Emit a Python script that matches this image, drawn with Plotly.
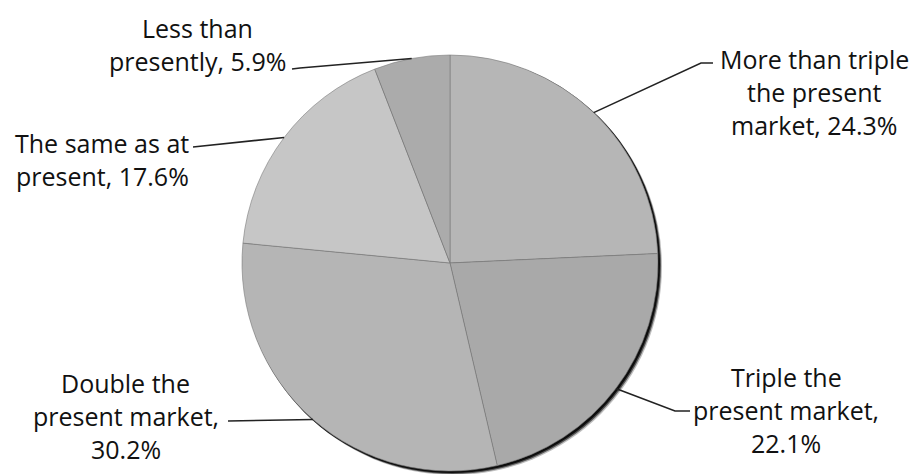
import math
import plotly.graph_objects as go

# Survey answers: expected size of the future market
categories = [
    "More than triple the present market",
    "Triple the present market",
    "Double the present market",
    "The same as at present",
    "Less than presently",
]
shares = [24.3, 22.1, 30.2, 17.6, 5.9]
# label text per slice; the share is appended to the last line
label_text = [
    ["More than triple", "the present", "market, "],
    ["Triple the", "present market,", ""],
    ["Double the", "present market,", ""],
    ["The same as at", "present, "],
    ["Less than", "presently, "],
]

# ---- styling / layout ----
W, H = 916, 474
cx, cy, r = 450, 263, 208          # pie centre and radius in pixels (from top-left)
slice_colors = ["#b6b6b6", "#a9a9a9", "#b5b5b5", "#c6c6c6", "#ababab"]
font = dict(family="'Open Sans', Lato, sans-serif", size=25, color="#111111")
line_gap = 33

# where each label block sits (centre x, first-line centre y) and the leader's path
label_pos = [(814, 59), (786, 377), (126, 383), (102, 143), (197, 28)]
leader_pts = [
    [(701, 63), (713, 63)],
    [(675, 411), (690, 411)],
    [(228, 421)],
    [(193, 147)],
    [(300, 68), (292, 69)],
]


def px(x, y):
    return x / W, 1 - y / H


fig = go.Figure(
    go.Pie(
        labels=categories,
        values=shares,
        sort=False,
        direction="clockwise",
        rotation=0,
        textinfo="none",
        hoverinfo="label+percent",
        marker=dict(colors=slice_colors, line=dict(color="#7a7a7a", width=0.6)),
        domain=dict(x=[(cx - r) / W, (cx + r) / W], y=[1 - (cy + r) / H, 1 - (cy - r) / H]),
        showlegend=False,
    )
)

shapes = []
annotations = []

# soft drop shadow behind the pie edge (lower right)
for off, col in [(4, "rgba(0,0,0,0.25)"), (3, "rgba(0,0,0,0.55)"), (2, "rgba(0,0,0,0.85)")]:
    x0, y1 = px(cx - r + off - 1, cy - r + off - 1)
    x1, y0 = px(cx + r + off, cy + r + off)
    shapes.append(dict(type="circle", xref="paper", yref="paper", x0=x0, x1=x1, y0=y0, y1=y1,
                       fillcolor=col, line=dict(width=0), layer="below"))

total = sum(shares)
cum = 0.0
for v, lines, (lx, ly), pts in zip(shares, label_text, label_pos, leader_pts):
    theta = math.radians(360 * (cum + v / 2) / total)
    cum += v
    sx, sy = cx + r * math.sin(theta), cy - r * math.cos(theta)
    path_pts = [(sx, sy)] + pts
    d = "M " + " L ".join(f"{px(x, y)[0]:.5f},{px(x, y)[1]:.5f}" for x, y in path_pts)
    shapes.append(dict(type="path", xref="paper", yref="paper", path=d,
                       line=dict(color="#222222", width=1.6)))

    text_lines = list(lines)
    text_lines[-1] = text_lines[-1] + f"{v:.1f}%"
    for i, t in enumerate(text_lines):
        ax, ay = px(lx, ly + i * line_gap)
        annotations.append(dict(text=t, x=ax, y=ay, xref="paper", yref="paper",
                                xanchor="center", yanchor="middle", showarrow=False, font=font))

fig.update_layout(
    width=W,
    height=H,
    margin=dict(l=0, r=0, t=0, b=0),
    paper_bgcolor="white",
    plot_bgcolor="white",
    shapes=shapes,
    annotations=annotations,
)

fig.write_html("out.html")
